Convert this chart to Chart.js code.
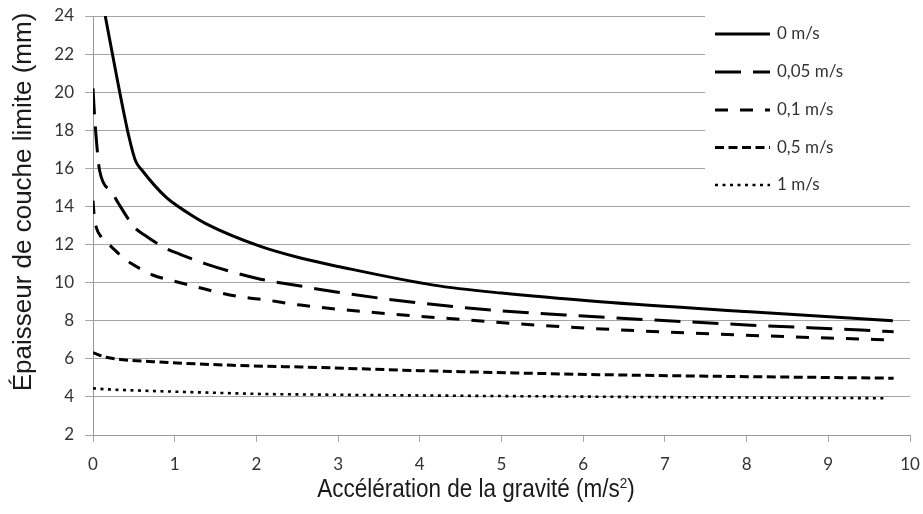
<!DOCTYPE html>
<html>
<head>
<meta charset="utf-8">
<script src="https://cdn.jsdelivr.net/npm/chart.js@4/dist/chart.umd.min.js"></script>
<style>
  html, body { margin: 0; padding: 0; background: #ffffff; }
  #wrap { width: 923px; height: 514px; position: relative; }
</style>
</head>
<body>
<div id="wrap"><canvas id="c" width="923" height="514"></canvas></div>
<script>
// ---- Data ----
const seriesLabels = ['0 m/s', '0,05 m/s', '0,1 m/s', '0,5 m/s', '1 m/s'];

const gravity0 = [0.15, 0.30, 0.44, 0.52, 0.60, 0.89, 1.14, 1.38, 2.05, 2.54, 3.0, 4.17, 5.0, 6.21, 8.04, 9.79];
const thick0   = [24.0, 20.6, 17.66, 16.4, 15.9, 14.5, 13.72, 13.1, 11.9, 11.29, 10.85, 9.87, 9.45, 9.0, 8.47, 8.0];

const gravity005 = [0, 0.02, 0.06, 0.08, 0.24, 0.32, 0.51, 0.63, 0.89, 1.06, 1.37, 2.0, 2.54, 3.08, 4.0, 5.0, 6.0, 8.0, 9.4, 9.8];
const thick005   = [20.2, 18.7, 16.6, 15.9, 14.7, 14.1, 12.9, 12.5, 11.8, 11.5, 11.0, 10.23, 9.82, 9.44, 8.93, 8.52, 8.25, 7.78, 7.51, 7.42];

const gravity01 = [0, 0.015, 0.04, 0.1, 0.22, 0.32, 0.47, 0.59, 0.73, 1.02, 1.18, 1.5, 1.8, 2.12, 2.54, 4.58, 6.09, 8.5, 9.8];
const thick01   = [14.3, 13.5, 12.9, 12.4, 11.9, 11.5, 11.0, 10.7, 10.4, 10.05, 9.87, 9.52, 9.26, 9.09, 8.82, 8.04, 7.6, 7.16, 6.99];

const gravity05 = [0, 0.16, 0.4, 0.73, 1.14, 1.71, 2.12, 2.54, 4.0, 6.2, 9.8];
const thick05   = [6.32, 6.08, 5.94, 5.85, 5.76, 5.66, 5.61, 5.57, 5.38, 5.17, 4.98];

const gravity1 = [0, 0.16, 0.73, 1.46, 2.12, 2.54, 6.2, 9.7];
const thick1   = [4.45, 4.4, 4.31, 4.22, 4.15, 4.13, 4.01, 3.93];

const xAxisMin = 0, xAxisMax = 10, xAxisStep = 1;
const yAxisMin = 2, yAxisMax = 24, yAxisStep = 2;
const xTitleMain = 'Accélération de la gravité (m/s';
const xTitleSup = '2';
const xTitleEnd = ')';
const yTitle = 'Épaisseur de couche limite (mm)';

// ---- Styles ----
const dashes = [[], [26, 12], [13, 12], [9, 4.5], [3, 4.5]];
const widths = [3, 3, 3, 3, 2.6];
const TEXT = '#333333';
const TICKFONT = '17px Lato, "Open Sans", sans-serif';

function pts(xs, ys) { return xs.map((x, i) => ({ x: x, y: ys[i] })); }
const seriesData = [
  pts(gravity0, thick0),
  pts(gravity005, thick005),
  pts(gravity01, thick01),
  pts(gravity05, thick05),
  pts(gravity1, thick1)
];

const datasets = seriesData.map((d, i) => ({
  label: seriesLabels[i],
  data: d,
  borderColor: '#000000',
  borderWidth: widths[i],
  borderDash: dashes[i],
  borderCapStyle: 'butt',
  pointRadius: 0,
  fill: false,
  cubicInterpolationMode: 'monotone'
}));

const decorPlugin = {
  id: 'decor',
  afterDraw(chart) {
    const ctx = chart.ctx;
    // legend box
    ctx.save();
    ctx.fillStyle = '#ffffff';
    ctx.fillRect(705, 4, 212, 198);
    const rows = [34, 72, 110, 147.5, 185];
    seriesLabels.forEach((lab, i) => {
      ctx.beginPath();
      ctx.setLineDash(dashes[i]);
      ctx.lineWidth = widths[i];
      ctx.strokeStyle = '#000000';
      ctx.lineCap = 'butt';
      ctx.moveTo(715, rows[i]);
      ctx.lineTo(770, rows[i]);
      ctx.stroke();
      ctx.setLineDash([]);
      ctx.fillStyle = TEXT;
      ctx.font = TICKFONT;
      ctx.textAlign = 'left';
      ctx.textBaseline = 'middle';
      ctx.fillText(lab, 777, rows[i]);
    });
    ctx.restore();

    // x title with superscript
    ctx.save();
    ctx.fillStyle = '#1a1a1a';
    const fMain = '25px "Liberation Sans", Arial, sans-serif';
    const fSup = '15px "Liberation Sans", Arial, sans-serif';
    ctx.font = fMain;
    const w1 = ctx.measureText(xTitleMain).width;
    const w3 = ctx.measureText(xTitleEnd).width;
    ctx.font = fSup;
    const w2 = ctx.measureText(xTitleSup).width;
    const sx = 0.9;
    const total = (w1 + w2 + w3) * sx;
    const cx = 476, base = 497;
    ctx.translate(cx - total / 2, base);
    ctx.scale(sx, 1);
    ctx.textAlign = 'left';
    ctx.textBaseline = 'alphabetic';
    ctx.font = fMain;
    ctx.fillText(xTitleMain, 0, 0);
    ctx.font = fSup;
    ctx.fillText(xTitleSup, w1, -9);
    ctx.font = fMain;
    ctx.fillText(xTitleEnd, w1 + w2, 0);
    ctx.restore();

    // y title
    ctx.save();
    ctx.fillStyle = '#1a1a1a';
    ctx.font = '26px "Liberation Sans", Arial, sans-serif';
    ctx.translate(24, 202);
    ctx.rotate(-Math.PI / 2);
    ctx.textAlign = 'center';
    ctx.textBaseline = 'middle';
    ctx.fillText(yTitle, 0, 0);
    ctx.restore();
  }
};

new Chart(document.getElementById('c'), {
  type: 'line',
  data: { datasets: datasets },
  options: {
    responsive: false,
    animation: false,
    layout: { padding: { top: 16, right: 13, left: 0, bottom: 0 } },
    plugins: { legend: { display: false }, tooltip: { enabled: false } },
    scales: {
      x: {
        type: 'linear',
        min: xAxisMin, max: xAxisMax,
        ticks: { stepSize: xAxisStep, color: TEXT, font: { family: 'Lato, "Open Sans", sans-serif', size: 17 }, padding: 12, maxRotation: 0 },
        grid: { display: true, drawOnChartArea: false, color: '#a6a6a6', tickLength: 7 },
        border: { display: true, color: '#9a9a9a', width: 1 },
        afterFit(s) { s.height = 79; s.paddingLeft = 0; s.paddingRight = 0; }
      },
      y: {
        type: 'linear',
        min: yAxisMin, max: yAxisMax,
        ticks: { stepSize: yAxisStep, color: TEXT, font: { family: 'Lato, "Open Sans", sans-serif', size: 17 }, padding: 11 },
        grid: { display: true, color: '#a6a6a6', tickLength: 8 },
        border: { display: true, color: '#9a9a9a', width: 1 },
        afterFit(s) { s.width = 93; s.paddingTop = 0; s.paddingBottom = 0; }
      }
    }
  },
  plugins: [decorPlugin]
});
</script>
</body>
</html>
